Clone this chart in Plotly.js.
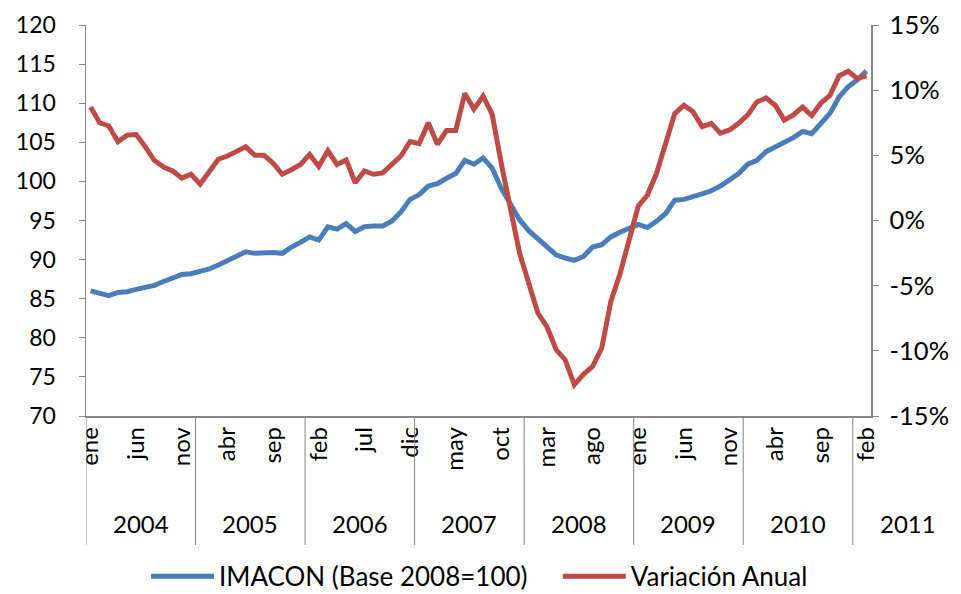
<!DOCTYPE html>
<html>
<head>
<meta charset="utf-8">
<script src="https://cdn.plot.ly/plotly-3.0.1.min.js"></script>
<style>html,body{margin:0;padding:0;background:#fff}#chart{width:961px;height:594px}</style>
</head>
<body>
<div id="chart"></div>
<script>
// Monthly series, ene 2004 .. feb 2011
const years = ['2004','2005','2006','2007','2008','2009','2010','2011'];
const tickLabels = ['ene','jun','nov','abr','sep','feb','jul','dic','may','oct','mar','ago','ene','jun','nov','abr','sep','feb'];
const imacon = [
  86.0, 85.7, 85.4, 85.8, 85.9, 86.2, 86.5, 86.7, 87.2, 87.7, 88.1, 88.2,
  88.45, 88.8, 89.3, 89.9, 90.4, 91.0, 90.8, 90.9, 90.9, 90.8, 91.6, 92.2,
  92.9, 92.5, 94.2, 93.9, 94.6, 93.6, 94.2, 94.3, 94.3, 94.9, 96.1, 97.7,
  98.3, 99.4, 99.7, 100.4, 101.0, 102.7, 102.2, 103.0, 101.7, 99.1, 97.2, 95.1,
  93.7, 92.7, 91.7, 90.6, 90.2, 89.9, 90.4, 91.6, 91.9, 92.9, 93.5, 94.0,
  94.5, 94.1, 94.9, 95.9, 97.6, 97.7, 98.0, 98.4, 98.8, 99.4, 100.2, 101.0,
  102.2, 102.7, 103.8, 104.4, 105.0, 105.6, 106.4, 106.1, 107.4, 108.7, 110.8, 112.1,
  113.0, 114.1
];
const variacion = [
  8.7, 7.5, 7.25, 6.05, 6.55, 6.6, 5.65, 4.6, 4.1, 3.8, 3.25, 3.55,
  2.8, 3.75, 4.7, 4.95, 5.35, 5.65, 5.0, 5.0, 4.4, 3.55, 3.9, 4.3,
  5.07, 4.15, 5.35, 4.3, 4.65, 2.9, 3.8, 3.55, 3.65, 4.35, 4.95, 6.05,
  5.9, 7.5, 5.85, 6.9, 6.9, 9.75, 8.55, 9.55, 8.15, 4.35, 1.05, -2.5,
  -4.8, -7.1, -8.15, -9.9, -10.7, -12.6, -11.8, -11.2, -9.8, -6.2, -4.1, -1.5,
  1.1, 1.95, 3.6, 5.9, 8.2, 8.85, 8.35, 7.2, 7.45, 6.7, 6.95, 7.45,
  8.1, 9.1, 9.4, 8.85, 7.7, 8.1, 8.7, 8.05, 9.0, 9.6, 11.1, 11.45,
  10.9, 11.1
];
const pctTicks = [-15, -10, -5, 0, 5, 10, 15];

const xIdx = imacon.map((_, i) => i);
const tickVals = tickLabels.map((_, k) => k * 5);
const FONT = 'Lato, "Open Sans", sans-serif';
const AX = '#868686';

const traces = [
  {x: xIdx, y: imacon, type: 'scatter', mode: 'lines', name: 'IMACON (Base 2008=100)',
   line: {color: '#4A7EBB', width: 5}, yaxis: 'y', legend: 'legend'},
  {x: xIdx, y: variacion, type: 'scatter', mode: 'lines', name: 'Variación Anual',
   line: {color: '#BE4B48', width: 5}, yaxis: 'y2', legend: 'legend2'}
];

const n = imacon.length;
const shapes = [];
const annotations = [];
years.forEach((yr, k) => {
  const start = k * 12 - 0.5;
  const end = Math.min(start + 12, n - 0.5);
  shapes.push({type: 'line', xref: 'x', yref: 'paper', x0: start, x1: start, y0: 0, y1: -0.33,
               line: {color: AX, width: 1}});
  const center = (end - start) >= 12 ? (start + end) / 2 : start + 6;
  annotations.push({x: (center + 0.5) / n, y: -0.274, xref: 'paper', yref: 'paper', text: yr, showarrow: false,
                    xanchor: 'center', yanchor: 'middle', font: {family: FONT, size: 24, color: '#000'}});
});

const legendBase = {orientation: 'h', xanchor: 'left', y: -0.41, yanchor: 'middle',
                    font: {family: FONT, size: 26, color: '#000'}, itemwidth: 63,
                    bgcolor: 'rgba(0,0,0,0)', borderwidth: 0};

const layout = {
  width: 961, height: 594,
  margin: {l: 86, r: 90, t: 25, b: 178, autoexpand: false},
  paper_bgcolor: '#fff', plot_bgcolor: '#fff',
  showlegend: true,
  legend: Object.assign({}, legendBase, {x: 0.0764}),
  legend2: Object.assign({}, legendBase, {x: 0.601}),
  xaxis: {range: [-0.5, n - 0.5], tickvals: tickVals, ticktext: tickLabels, tickangle: -90,
          ticks: '', showline: true, linecolor: AX, linewidth: 1.5, showgrid: false, zeroline: false,
          tickfont: {family: FONT, size: 24, color: '#000'}},
  yaxis: {range: [70, 120], dtick: 5, tick0: 70, ticks: 'outside', ticklen: 6, tickcolor: AX,
          showline: true, linecolor: AX, linewidth: 1.5, showgrid: false, zeroline: false,
          ticklabelstandoff: 18,
          tickfont: {family: FONT, size: 23, color: '#000'}},
  yaxis2: {range: [-15, 15], overlaying: 'y', side: 'right', tickvals: pctTicks,
           ticktext: pctTicks.map(v => v + '%'), ticks: 'outside', ticklen: 6, tickcolor: AX,
           showline: true, linecolor: AX, linewidth: 1.5, showgrid: false, zeroline: false,
           ticklabelstandoff: 6,
           tickfont: {family: FONT, size: 25.5, color: '#000'}},
  shapes: shapes,
  annotations: annotations
};

Plotly.newPlot('chart', traces, layout, {displayModeBar: false, staticPlot: true});
</script>
</body>
</html>
